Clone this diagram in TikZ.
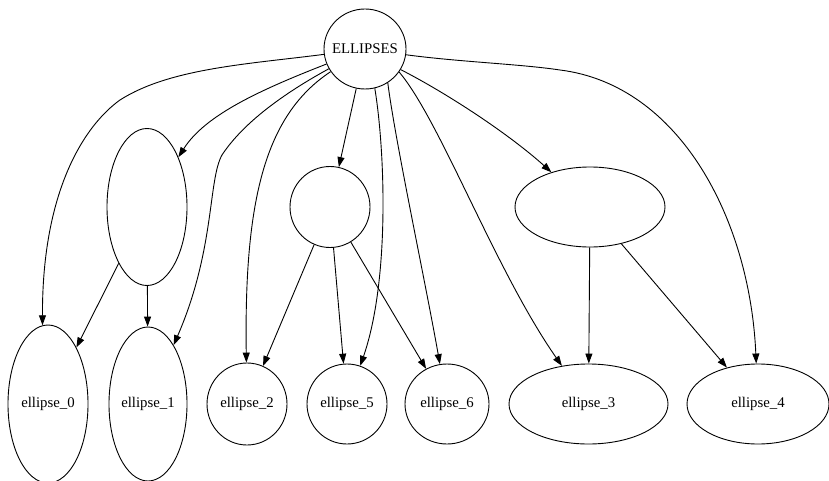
\documentclass[tikz,border=0pt]{standalone}
\usepackage{fontspec}
\setmainfont{Liberation Serif}
\usetikzlibrary{shapes.geometric,arrows.meta}
\newcommand{\zw}[1]{\makebox[0pt]{#1}}
\begin{document}
\begin{tikzpicture}[x=1pt,y=-1pt,
  nd/.style={draw, ellipse, inner sep=0pt, line width=0.9pt, font=\fontsize{14.8}{17}\selectfont},
  edge/.style={line width=0.9pt, -{Triangle[length=10pt,width=7pt]}}]
\useasboundingbox (0,0) rectangle (829,481);
% nodes
\node[nd, minimum width=82pt, minimum height=80pt] (E) at (365,49) {\zw{ELLIPSES}};
\node[nd, minimum width=80pt, minimum height=157pt] (A1) at (147,207) {};
\node[nd, minimum width=80pt, minimum height=81pt] (A2) at (330,207) {};
\node[nd, minimum width=150pt, minimum height=80pt] (A3) at (590,207) {};
\node[nd, minimum width=80pt, minimum height=158pt] (e0) at (48,404) {\zw{ellipse\_0}};
\node[nd, minimum width=78pt, minimum height=154pt] (e1) at (148,404) {\zw{ellipse\_1}};
\node[nd, minimum width=80pt, minimum height=82pt] (e2) at (247,404) {\zw{ellipse\_2}};
\node[nd, minimum width=80pt, minimum height=80pt] (e5) at (347,404) {\zw{ellipse\_5}};
\node[nd, minimum width=84pt, minimum height=80pt] (e6) at (447,404) {\zw{ellipse\_6}};
\node[nd, minimum width=159pt, minimum height=80pt] (e3) at (588.5,404) {\zw{ellipse\_3}};
\node[nd, minimum width=142pt, minimum height=80pt] (e4) at (758,404) {\zw{ellipse\_4}};
% edges from ELLIPSES
\draw[edge] (E) .. controls (250,64) and (170,68) .. (120,100) .. controls (85,125) and (42,190) .. (e0.94);
\draw[edge] (E) .. controls (260,90) and (205,115) .. (A1);
\draw[edge] (E) .. controls (290,90) and (245,120) .. (222,155) .. controls (208,180) and (215,250) .. (e1);
\draw[edge] (E) .. controls (265,115) and (244,200) .. (e2);
\draw[edge] (E) -- (A2);
\draw[edge] (E.-76) .. controls (385,150) and (390,280) .. (e5);
\draw[edge] (E.-56) .. controls (395,140) and (425,280) .. (e6);
\draw[edge] (E.-34) .. controls (440,120) and (495,270) .. (e3);
\draw[edge] (E.-30) .. controls (450,95) and (510,135) .. (A3);
\draw[edge] (E.-8) .. controls (460,62) and (520,64) .. (560,70) .. controls (680,85) and (750,220) .. (e4);
% edges from the unnamed ellipses
\draw[edge] (A1) -- (e0);
\draw[edge] (A1) -- (e1);
\draw[edge] (A2) -- (e2);
\draw[edge] (A2) -- (e5);
\draw[edge] (A2) -- (e6);
\draw[edge] (A3) -- (e3);
\draw[edge] (A3) -- (e4);
\end{tikzpicture}
\end{document}
